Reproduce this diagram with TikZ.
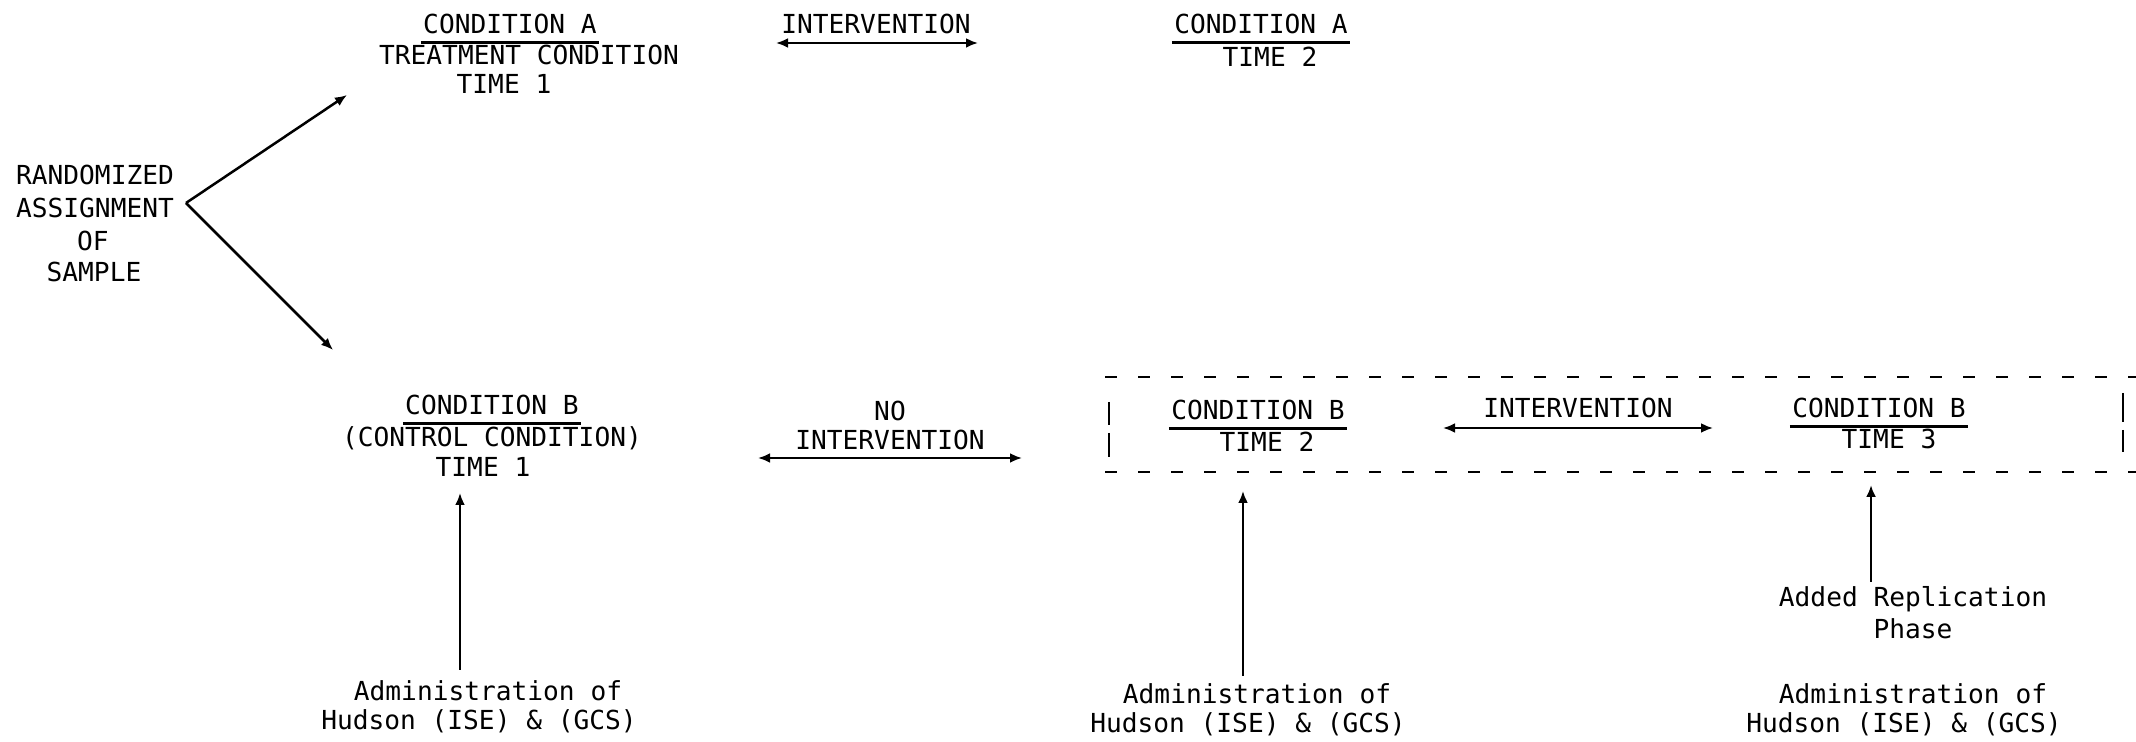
\documentclass[tikz,border=0pt]{standalone}
\usepackage{fontspec}
\setmonofont{DejaVu Sans Mono}
\usetikzlibrary{arrows.meta}
\tikzset{
  txt/.style={font=\ttfamily\fontsize{13.1}{15.5}\selectfont,inner sep=1pt,anchor=base},
  uline/.style={line width=1.2pt},
  conn/.style={line width=1.25pt},
  frame/.style={line width=1.4pt,dash pattern=on 6pt off 10.5pt},
  bar/.style={line width=0.8pt}
}
\begin{document}
\begin{tikzpicture}[x=0.5pt,y=-0.5pt,>={Latex[length=6pt,width=5pt]}]
\useasboundingbox (0,0) rectangle (2136,742);

% sample
\node[txt] (rand) at (95,185) {RANDOMIZED};
\node[txt] (assign) at (95,218) {ASSIGNMENT};
\node[txt] (of) at (93,251) {OF};
\node[txt] (sample) at (94,282) {SAMPLE};
\coordinate (split) at (186,203);
\coordinate (toA) at (347,95);
\coordinate (toB) at (333,350);
\draw[conn,->] (split) -- (toA);
\draw[conn,->] (split) -- (toB);

% condition A
\node[txt] (condA1) at (510,34) {CONDITION A};
\node[txt] (treatA1) at (529,65) {TREATMENT CONDITION};
\node[txt] (timeA1) at (504,94) {TIME 1};
\node[txt] (intA) at (876,34) {INTERVENTION};
\coordinate (intAl) at (776,43);
\coordinate (intAr) at (978,43);
\draw[conn,<->] (intAl) -- (intAr);
\node[txt] (condA2) at (1261,34) {CONDITION A};
\node[txt] (timeA2) at (1270,67) {TIME 2};

% condition B
\node[txt] (condB1) at (492,415) {CONDITION B};
\node[txt] (ctrlB1) at (492,447) {(CONTROL CONDITION)};
\node[txt] (timeB1) at (483,477) {TIME 1};
\node[txt] (no) at (890,421) {NO};
\node[txt] (noint) at (890,450) {INTERVENTION};
\coordinate (nointl) at (758,458);
\coordinate (nointr) at (1022,458);
\draw[conn,<->] (nointl) -- (nointr);
\node[txt] (condB2) at (1258,420) {CONDITION B};
\node[txt] (timeB2) at (1267,452) {TIME 2};
\node[txt] (intB) at (1578,418) {INTERVENTION};
\coordinate (intBl) at (1443,428);
\coordinate (intBr) at (1713,428);
\draw[conn,<->] (intBl) -- (intBr);
\node[txt] (condB3) at (1879,418) {CONDITION B};
\node[txt] (timeB3) at (1889,449) {TIME 3};

% underlines
\draw[uline] ([yshift=-4.2pt]condA1.base west) -- ([yshift=-4.2pt]condA1.base east);
\draw[uline] ([yshift=-4.2pt]condA2.base west) -- ([yshift=-4.2pt]condA2.base east);
\draw[uline] ([yshift=-4.2pt]condB1.base west) -- ([yshift=-4.2pt]condB1.base east);
\draw[uline] ([yshift=-4.2pt]condB2.base west) -- ([yshift=-4.2pt]condB2.base east);
\draw[uline] ([yshift=-4.2pt]condB3.base west) -- ([yshift=-4.2pt]condB3.base east);

% replication frame
\draw[frame] (1105,377) -- (2136,377);
\draw[frame] (1105,472) -- (2136,472);
\draw[bar] (1109,402) -- (1109,425) (1109,433) -- (1109,457);
\draw[bar] (2123,393) -- (2123,422) (2123,430) -- (2123,452);

% administrations
\node[txt] (admA) at (488,700) {Administration of};
\node[txt] (hudA) at (479,729) {Hudson (ISE) \& (GCS)};
\node[txt] (admB) at (1257,703) {Administration of};
\node[txt] (hudB) at (1248,732) {Hudson (ISE) \& (GCS)};
\node[txt] (added) at (1913,607) {Added Replication};
\node[txt] (phase) at (1913,639) {Phase};
\node[txt] (admC) at (1913,703) {Administration of};
\node[txt] (hudC) at (1904,732) {Hudson (ISE) \& (GCS)};
\coordinate (upA) at (460,493);
\coordinate (upB) at (1243,491);
\coordinate (upC) at (1871,485);
\draw[conn,->,shorten <=4pt] (admA.north -| upA) -- (upA);
\draw[conn,->,shorten <=2.5pt] (admB.north -| upB) -- (upB);
\draw[conn,->,shorten <=1.5pt] (added.north -| upC) -- (upC);
\end{tikzpicture}
\end{document}
